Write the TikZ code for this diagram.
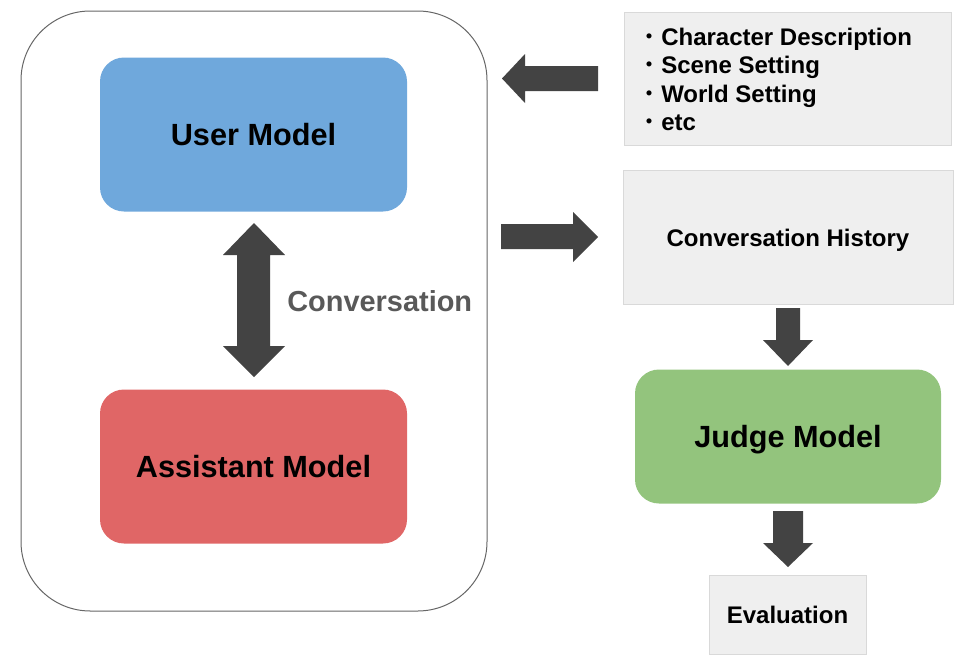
\documentclass[tikz,border=0pt]{standalone}
\usepackage{fontspec}
\setmainfont{Liberation Sans}
\newfontfamily\cjkfont{Noto Sans CJK JP}
\definecolor{userblue}{HTML}{6FA8DC}
\definecolor{asstred}{HTML}{E06666}
\definecolor{judgegreen}{HTML}{93C47D}
\definecolor{boxgray}{HTML}{EFEFEF}
\definecolor{boxline}{HTML}{D9D9D9}
\definecolor{arrowc}{HTML}{434343}
\definecolor{outerline}{HTML}{666666}
\definecolor{labelgray}{HTML}{595959}
\newcommand{\listdot}{{\cjkfont\mdseries ・}}
\begin{document}
\begin{tikzpicture}[x=0.75pt,y=-0.75pt,
  model/.style={rectangle, rounded corners=18pt, inner sep=0pt,
    font=\fontsize{23}{27}\selectfont\bfseries, text height=16.5pt, text depth=0pt},
  graybox/.style={rectangle, fill=boxgray, draw=boxline, line width=0.75pt, inner sep=0pt,
    font=\fontsize{18}{21}\selectfont\bfseries, text height=12.9pt, text depth=0pt},
  listline/.style={anchor=base west, inner sep=0pt, font=\fontsize{18}{21}\selectfont\bfseries},
  blockarrow/.style={fill=arrowc}]
\useasboundingbox (0,0) rectangle (971,664);
% outer container
\node[draw=outerline, line width=0.75pt, rounded corners=52pt, minimum width=349.5pt,
  minimum height=450pt, inner sep=0pt] (outer) at (254,311) {};
% models
\node[model, fill=userblue, minimum width=230.25pt, minimum height=115.5pt] (user) at (253.5,134.5) {User Model};
\node[model, fill=asstred, minimum width=230.25pt, minimum height=115.5pt] (asst) at (253.5,466.5) {Assistant Model};
\node[model, fill=judgegreen, minimum width=229.5pt, minimum height=100.5pt] (judge) at (788,436.5) {Judge Model};
% gray boxes
\node[graybox, minimum width=245.25pt, minimum height=99.75pt] (desc) at (787.5,78.5) {};
\node[listline] (d1) at (637,45.5) {\listdot Character Description};
\node[listline] (d2) at (637,73.5) {\listdot Scene Setting};
\node[listline] (d3) at (637,102) {\listdot World Setting};
\node[listline] (d4) at (637,130) {\listdot etc};
\node[graybox, minimum width=247.5pt, minimum height=100.5pt] (hist) at (788,237.5) {Conversation History};
\node[graybox, minimum width=117.75pt, minimum height=59.25pt] (eval) at (787.5,614.5) {Evaluation};
% conversation label
\node[anchor=west, inner sep=0pt, text=labelgray, font=\fontsize{21.7}{26}\selectfont\bfseries,
  text height=15.5pt, text depth=0pt] (conv) at (287,301.5) {Conversation};
% block arrows
\fill[blockarrow] (502,78.5) -- (525,54) -- (525,66) -- (598,66) -- (598,91) -- (525,91) -- (525,103) -- cycle;
\fill[blockarrow] (598,237) -- (573,212) -- (573,224) -- (501,224) -- (501,249) -- (573,249) -- (573,262) -- cycle;
\fill[blockarrow] (254,223) -- (285,255) -- (270,255) -- (270,346) -- (285,346) -- (254,377)
  -- (223,346) -- (237,346) -- (237,255) -- (223,255) -- cycle;
\fill[blockarrow] (776,308) -- (800,308) -- (800,340) -- (813,340) -- (788,366) -- (763,340) -- (776,340) -- cycle;
\fill[blockarrow] (773,511) -- (803,511) -- (803,543) -- (813,543) -- (788,567) -- (763,543) -- (773,543) -- cycle;
\end{tikzpicture}
\end{document}
